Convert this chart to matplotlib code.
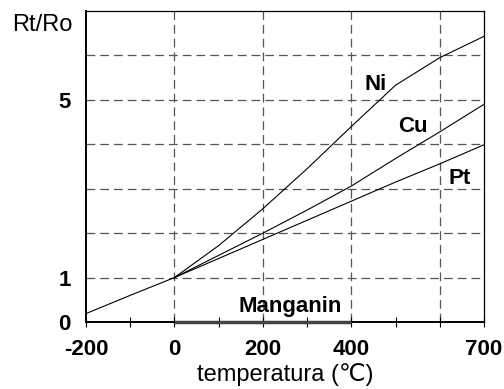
import matplotlib.pyplot as plt

# values
temp_low = [-200, -100, 0]
rt_low = [0.19, 0.60, 1.0]

temp = [0, 100, 200, 300, 400, 500, 600, 700]
rt_ni = [1.0, 1.72, 2.55, 3.45, 4.40, 5.33, 5.95, 6.43]
rt_cu = [1.0, 1.50, 2.00, 2.52, 3.06, 3.68, 4.28, 4.90]
rt_pt = [1.0, 1.43, 1.86, 2.29, 2.72, 3.15, 3.56, 3.99]

manganin_t = [0, 400]
manganin_r = [0, 0]

xtick_pos = list(range(-200, 701, 100))
xtick_lab = ['-200', '', '0', '', '200', '', '400', '', '', '700']
ytick_pos = [0, 1, 5]

fonts = ['Liberation Sans', 'DejaVu Sans']
plt.rcParams['font.family'] = fonts

fig = plt.figure(figsize=(5.04, 3.89), dpi=100)
ax = fig.add_axes([0.1706, 0.1722, 0.7897, 0.7995])

# dashed grid
for yv in range(1, 7):
    ax.axhline(yv, color='#555555', lw=0.9, ls=(0, (7, 4)), zorder=1)
for xv in [0, 200, 400, 600]:
    ax.axvline(xv, color='#555555', lw=0.9, ls=(0, (7, 4)), zorder=1)

ax.plot(temp_low, rt_low, color='black', lw=0.8, zorder=3)
ax.plot(temp, rt_ni, color='black', lw=0.8, zorder=3)
ax.plot(temp, rt_cu, color='black', lw=0.8, zorder=3)
ax.plot(temp, rt_pt, color='black', lw=0.8, zorder=3)
ax.plot(manganin_t, manganin_r, color='#444444', lw=2.5, clip_on=False,
        solid_capstyle='butt', zorder=4)

ax.set_xlim(-200, 700)
ax.set_ylim(0, 7)

ax.set_xticks(xtick_pos)
ax.set_xticklabels(xtick_lab, fontsize=16, fontweight='bold')
ax.set_yticks(ytick_pos)
ax.set_yticklabels([str(v) for v in ytick_pos], fontsize=16, fontweight='bold')
ax.tick_params(axis='x', direction='inout', length=7, width=0.8, pad=9)
ax.tick_params(axis='y', length=0, pad=11)

for side in ['top', 'right']:
    ax.spines[side].set_linewidth(0.9)
for side in ['left', 'bottom']:
    ax.spines[side].set_linewidth(1.4)

ax.text(455, 5.35, 'Ni', fontsize=16, fontweight='bold', ha='center', va='center')
ax.text(540, 4.4, 'Cu', fontsize=16, fontweight='bold', ha='center', va='center')
ax.text(645, 3.22, 'Pt', fontsize=16, fontweight='bold', ha='center', va='center')
ax.text(262, 0.35, 'Manganin', fontsize=16, fontweight='bold', ha='center', va='center')

ax.set_xlabel('temperatura (\u2103)', fontsize=17, labelpad=2)
fig.text(0.083, 0.935, 'Rt/Ro', fontsize=17, ha='center', va='center')

fig.savefig('out.png', dpi=100)
